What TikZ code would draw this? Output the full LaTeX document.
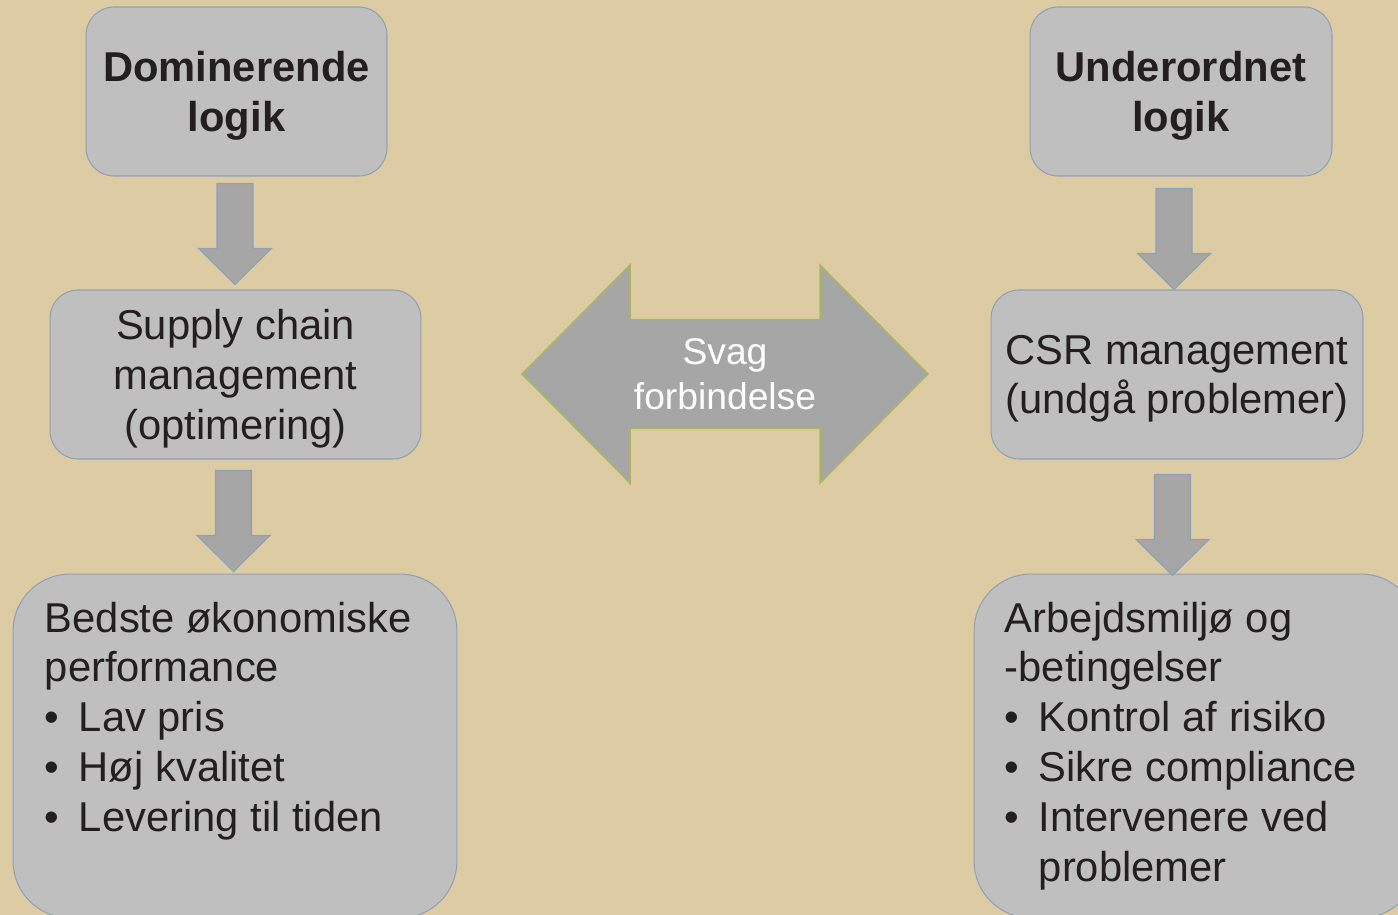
\documentclass[tikz,border=0pt]{standalone}
\usepackage{fontspec}
\setmainfont{Liberation Sans}
\usetikzlibrary{calc}

\definecolor{bgtan}{RGB}{221,203,164}
\definecolor{boxgray}{RGB}{191,191,191}
\definecolor{boxline}{RGB}{142,162,181}
\definecolor{arrowgray}{RGB}{166,166,166}
\definecolor{linkline}{RGB}{168,184,98}
\definecolor{textdark}{RGB}{35,31,32}

\newcommand{\bul}{\makebox[0.68cm][l]{•}}

\tikzset{
  headbox/.style={draw=boxline, fill=boxgray, line width=0.6pt, rounded corners=0.56cm,
    minimum width=6.02cm, minimum height=3.38cm, align=center, inner sep=0pt,
    text depth=0pt, text=textdark, font=\fontsize{23.75}{28.35}\selectfont\bfseries},
  midbox/.style={headbox, font=\fontsize{23.75}{28.35}\selectfont},
  bigbox/.style={draw=boxline, fill=boxgray, line width=0.6pt, rounded corners=1.14cm,
    minimum width=8.88cm, minimum height=6.88cm, inner sep=0pt},
  listtext/.style={anchor=north west, align=left, inner sep=0pt, text=textdark,
    font=\fontsize{23.75}{28.35}\selectfont},
  linktext/.style={align=center, inner sep=0pt, text depth=0pt, text=white,
    font=\fontsize{21.2}{25.5}\selectfont},
  blockarrow/.style={draw=boxline, fill=arrowgray, line width=0.6pt},
  linkarrow/.style={draw=linkline, fill=arrowgray, line width=0.85pt},
  downblock/.pic={\filldraw[blockarrow] (-18,0) -- (18,0) -- (18,65) -- (36.5,65)
    -- (0,101) -- (-36.5,65) -- (-18,65) -- cycle;}
}

\begin{document}
\begin{tikzpicture}[x=0.02cm, y=-0.02cm]
  % page and background
  \useasboundingbox (0,0) rectangle (1398,915);
  \fill[bgtan] (0,0) rectangle (1398,915);
  \clip (0,0) rectangle (1398,915);

  % Left column: dominant logic
  \node[headbox] (dom) at (236.5,91.5) {Dominerende\\logik};
  \node[midbox, minimum width=7.42cm] (scm) at (235.5,374.5) {Supply chain\\management\\(optimering)};
  \node[bigbox] (perf) at (235,746) {};
  \node[listtext] (perftext) at ($(perf.north west)+(32,28)$)
    {Bedste økonomiske\\performance\\\bul Lav pris\\\bul Høj kvalitet\\\bul Levering til tiden};

  % Arrows down the left column
  \pic at ($(dom.south)+(-1.5,7)$) {downblock};
  \pic at ($(scm.south)+(-2,11)$) {downblock};

  % Right column: subordinate logic
  \node[headbox, minimum width=6.04cm] (sub) at (1181,91.5) {Underordnet\\logik};
  \node[midbox, minimum width=7.44cm] (csr) at (1177,374.5) {CSR management\\(undgå problemer)};
  \node[bigbox] (work) at (1196,746) {};
  \node[listtext] (worktext) at ($(work.north west)+(31,28)$)
    {Arbejdsmiljø og\\-betingelser\\\bul Kontrol af risiko\\\bul Sikre compliance\\\bul Intervenere ved\\\hspace*{0.68cm}problemer};

  % Arrows down the right column
  \pic at ($(sub.south)+(-7,12)$) {downblock};
  \pic at ($(csr.south)+(-4.5,15)$) {downblock};

  % Weak link between the two logics
  \coordinate (mid) at (725,374);
  \filldraw[linkarrow] (mid) ++(-203,0) -- ++(108,-109) -- ++(0,54.5) -- ++(190,0)
    -- ++(0,-54.5) -- ++(108,109) -- ++(-108,109) -- ++(0,-54.5) -- ++(-190,0)
    -- ++(0,54.5) -- cycle;
  \node[linktext] (link) at (mid) {Svag\\forbindelse};
\end{tikzpicture}
\end{document}
